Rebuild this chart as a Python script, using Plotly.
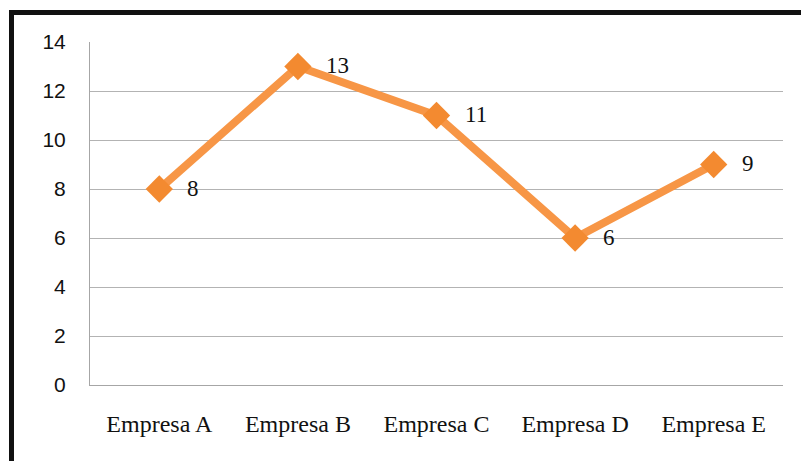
import plotly.graph_objects as go

categories = ["Empresa A", "Empresa B", "Empresa C", "Empresa D", "Empresa E"]
values = [8, 13, 11, 6, 9]
y_ticks = [0, 2, 4, 6, 8, 10, 12, 14]

W, H = 801, 461
L, R, T, B = 90, 18, 42, 76
pw, ph = W - L - R, H - T - B

fig = go.Figure()
fig.add_trace(go.Scatter(
    x=categories, y=values, mode="lines+markers",
    line=dict(color="#F79646", width=8),
    marker=dict(symbol="diamond", size=21, color="#F38A30",
                line=dict(width=0)),
    hoverinfo="skip", showlegend=False,
))

for c, v in zip(categories, values):
    fig.add_annotation(x=c, y=v, text=str(v), showarrow=False,
                       xanchor="left", yanchor="middle", xshift=26, yshift=1,
                       font=dict(family="Liberation Serif", size=23, color="#111111"))

def px_x(p):
    return (p - L) / pw

def px_y(p):
    return (H - B - p) / ph

# black frame (top and left)
fig.add_shape(type="line", xref="paper", yref="paper",
              x0=px_x(9), x1=px_x(805), y0=px_y(12.5), y1=px_y(12.5),
              line=dict(color="#111111", width=5))
fig.add_shape(type="line", xref="paper", yref="paper",
              x0=px_x(11.5), x1=px_x(11.5), y0=px_y(10), y1=px_y(470),
              line=dict(color="#111111", width=5))

fig.update_layout(
    width=W, height=H,
    margin=dict(l=L, r=R, t=T, b=B),
    paper_bgcolor="white", plot_bgcolor="white",
    xaxis=dict(
        type="category", categoryorder="array", categoryarray=categories,
        range=[-0.5, len(categories) - 0.5],
        showgrid=False, zeroline=False,
        showline=True, linecolor="#A6A6A6", linewidth=1,
        ticks="", ticklabelstandoff=17,
        tickfont=dict(family="Liberation Serif", size=24, color="#111111"),
    ),
    yaxis=dict(
        range=[0, 14], tickvals=y_ticks,
        showgrid=True, gridcolor="#B3B3B3", gridwidth=1,
        zeroline=False, showline=True, linecolor="#A6A6A6", linewidth=1,
        ticks="", ticklabelstandoff=19,
        tickfont=dict(family="Liberation Sans", size=21, color="#111111"),
    ),
)

fig.write_html("out.html")
